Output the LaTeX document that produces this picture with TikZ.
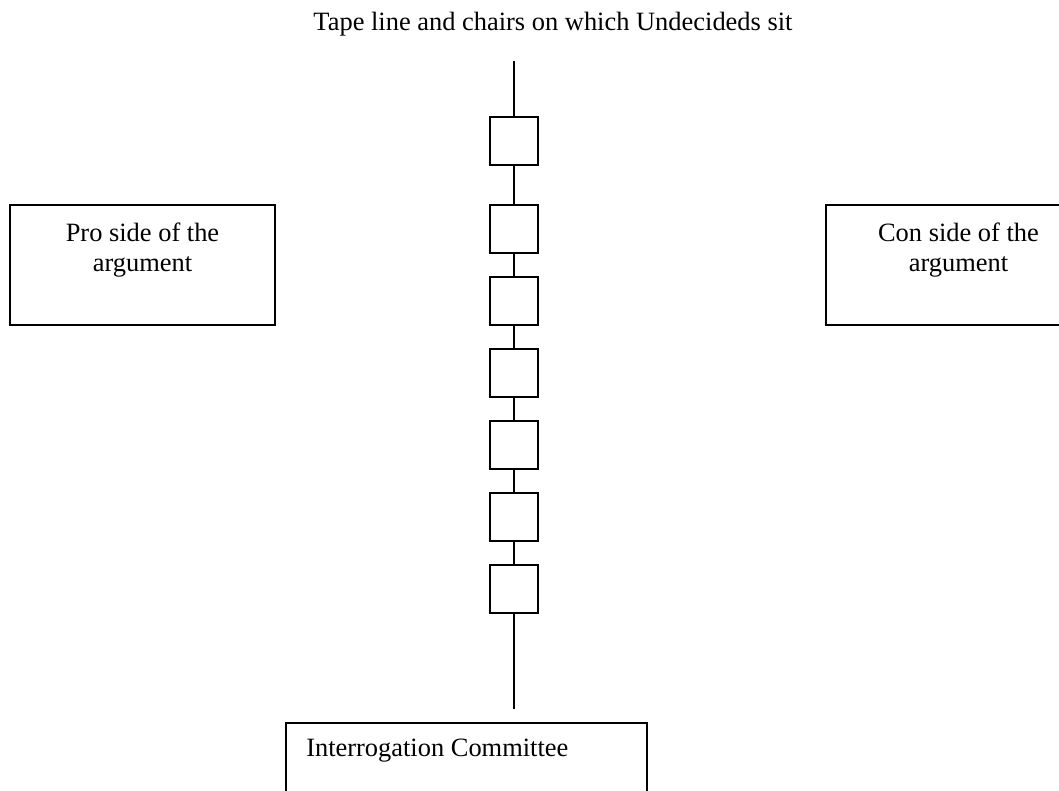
\documentclass[tikz,border=0pt]{standalone}
\usepackage{fontspec}
\setmainfont{Liberation Serif}
\usetikzlibrary{positioning}

\tikzset{
  chair/.style={draw, line width=1.4pt, minimum size=1.2cm, inner sep=0pt},
  side/.style={draw, line width=1.4pt, minimum width=6.625cm, minimum height=3cm},
  tape/.style={line width=1.4pt},
  words/.style={inner sep=0pt, align=center, font=\fontsize{18.8}{21.3}\selectfont}
}

\begin{document}
\begin{tikzpicture}[x=0.025cm, y=-0.025cm]
		\clip (0,0) rectangle (1059,790);
		\node[words, anchor=base] (title) at (553,30) {Tape line and chairs on which Undecideds sit};
		% the tape line with its chairs
		\coordinate (top) at (514,61);
		\node[chair] (c1) at (514,141) {};
		\node[chair] (c2) at (514,229) {};
		\node[chair] (c3) at (514,301) {};
		\node[chair] (c4) at (514,373) {};
		\node[chair] (c5) at (514,445) {};
		\node[chair] (c6) at (514,517) {};
		\node[chair] (c7) at (514,589) {};
		\coordinate (bottom) at (514,709);
		\draw[tape] (top) -- (c1) -- (c2) -- (c3) -- (c4) -- (c5) -- (c6) -- (c7) -- (bottom);
		% the two sides
		\node[side] (pro) at (142.5,265) {};
		\node[words, anchor=north] (protext) at ([yshift=-0.475cm]pro.north) {Pro side of the\\argument};
		\node[side] (con) at (958.5,265) {};
		\node[words, anchor=north] (context) at ([yshift=-0.475cm]con.north) {Con side of the\\argument};
		% committee
		\node[draw, line width=1.4pt, minimum width=9.025cm, minimum height=2.5cm] (panel) at (466.5,773) {};
		\node[words, anchor=north west] (paneltext) at ([xshift=0.525cm, yshift=-0.425cm]panel.north west) {Interrogation Committee};
	\end{tikzpicture}
\end{document}
